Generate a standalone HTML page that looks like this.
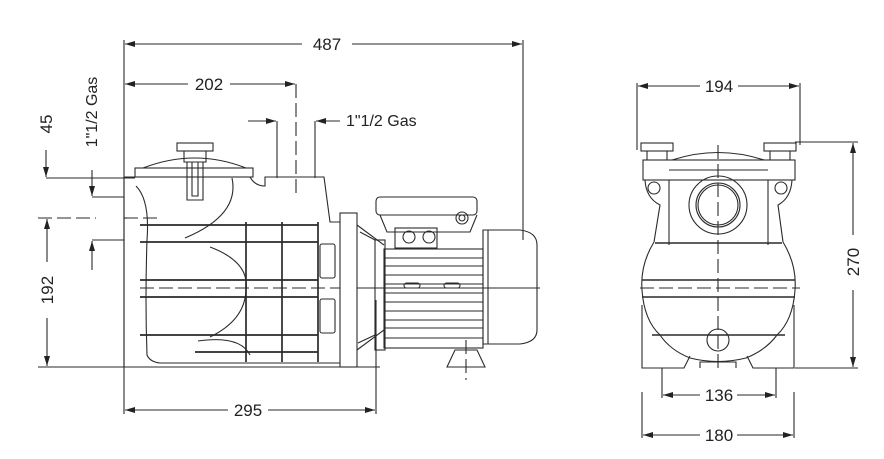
<!DOCTYPE html>
<html><head><meta charset="utf-8"><style>
html,body{margin:0;padding:0;background:#fff}
svg{display:block}
text{font-family:"Liberation Sans",sans-serif;fill:#222}
</style></head><body>
<svg width="884" height="459" viewBox="0 0 884 459" xmlns="http://www.w3.org/2000/svg">
<defs>
<marker id="a" markerWidth="10" markerHeight="6" refX="10" refY="3" orient="auto-start-reverse" markerUnits="userSpaceOnUse"><path d="M0,0 L10,3 L0,6 z" fill="#222"/></marker>
</defs>
<g stroke="#2a2a2a" stroke-width="1.1" fill="none">
<line x1="124" y1="40" x2="124" y2="414"/>
<line x1="523" y1="40" x2="523" y2="240"/>
<line x1="125" y1="44" x2="302" y2="44" marker-start="url(#a)"/>
<line x1="352" y1="44" x2="522" y2="44" marker-end="url(#a)"/>
<line x1="125" y1="84" x2="188" y2="84" marker-start="url(#a)"/>
<line x1="230" y1="84" x2="295" y2="84" marker-end="url(#a)"/>
<line x1="296" y1="84" x2="296" y2="196" stroke-dasharray="14,5"/>
<line x1="376" y1="300" x2="376" y2="414"/>
<line x1="125" y1="410" x2="228" y2="410" marker-start="url(#a)"/>
<line x1="268" y1="410" x2="375" y2="410" marker-end="url(#a)"/>
<line x1="248" y1="121" x2="276" y2="121" marker-end="url(#a)"/>
<line x1="277" y1="121" x2="277" y2="178"/>
<line x1="340" y1="121" x2="316" y2="121" marker-end="url(#a)"/>
<line x1="315" y1="121" x2="315" y2="178"/>
<line x1="46" y1="150" x2="46" y2="177" marker-end="url(#a)"/>
<line x1="46" y1="178" x2="135" y2="178"/>
<line x1="92" y1="170" x2="92" y2="196" marker-end="url(#a)"/>
<line x1="92" y1="197" x2="124" y2="197"/>
<line x1="92" y1="270" x2="92" y2="241" marker-end="url(#a)"/>
<line x1="92" y1="240" x2="124" y2="240"/>
<line x1="38" y1="218" x2="96" y2="218" stroke-dasharray="14,5"/>
<line x1="124" y1="218" x2="160" y2="218" stroke-dasharray="14,5"/>
<line x1="47" y1="219" x2="47" y2="262" marker-start="url(#a)"/>
<line x1="47" y1="318" x2="47" y2="366" marker-end="url(#a)"/>
<line x1="38" y1="367" x2="380" y2="367"/>

<path d="M143,168 Q195,148 246,168"/>
<rect x="135" y="168" width="118" height="9"/>
<rect x="177" y="143" width="36" height="8"/>
<path d="M184,151 V162 H206 V151"/>
<path d="M187,162 V200 H203 V162 M192,162 V196 H198 V162"/>
<path d="M124,177 H250 Q255,186 265,186 V177 H324 L330,222 L340,222"/>
<path d="M124,177 V367"/>
<path d="M136,186 Q150,200 147,240 Q145,300 147,355 Q150,362 160,363 H340"/>
<path d="M232,178 Q240,215 185,238"/>
<path d="M210,247 Q250,262 246,290 Q245,320 210,337"/>
<path d="M198,341 Q240,335 250,355"/>
<g stroke-width="1.7">
<line x1="140" y1="225" x2="318" y2="225"/>
<line x1="140" y1="242" x2="318" y2="242"/>
<line x1="140" y1="280" x2="318" y2="280"/>
<line x1="140" y1="297" x2="318" y2="297"/>
<line x1="140" y1="335" x2="318" y2="335"/>
<line x1="195" y1="352" x2="318" y2="352"/>
<line x1="246" y1="222" x2="246" y2="362"/>
<line x1="282" y1="222" x2="282" y2="362"/>
<line x1="318" y1="222" x2="318" y2="362"/>
</g>
<rect x="320" y="244" width="15" height="34" rx="2"/>
<rect x="320" y="299" width="15" height="34" rx="2"/>
<rect x="340" y="213" width="17" height="154"/>
<path d="M357,225 L384,245 M357,350 L384,330 M360,232 L375,240 M358,343 L375,335"/>
<rect x="375" y="240" width="10" height="110"/>
<path d="M357,288 H540"/>
<line x1="140" y1="288" x2="340" y2="288" stroke-dasharray="14,5"/>
<rect x="376" y="197" width="101" height="18" rx="4"/>
<path d="M380,215 L387,232 H470 L477,215"/>
<circle cx="462" cy="218" r="6"/><circle cx="462" cy="218" r="3"/>
<rect x="395" y="228" width="42" height="20"/>
<circle cx="409" cy="237" r="6"/><circle cx="429" cy="237" r="6"/>
<rect x="384" y="249" width="99" height="99"/>
<g stroke-width="0.9">
<line x1="384" y1="258" x2="483" y2="258"/>
<line x1="384" y1="266" x2="483" y2="266"/>
<line x1="384" y1="275" x2="483" y2="275"/>
<line x1="384" y1="284" x2="483" y2="284"/>
<line x1="384" y1="293" x2="483" y2="293"/>
<line x1="384" y1="302" x2="483" y2="302"/>
<line x1="384" y1="311" x2="483" y2="311"/>
<line x1="384" y1="320" x2="483" y2="320"/>
<line x1="384" y1="328" x2="483" y2="328"/>
<line x1="384" y1="338" x2="483" y2="338"/>
</g>
<rect x="404" y="283" width="16" height="5" rx="2.5"/>
<rect x="444" y="283" width="16" height="5" rx="2.5"/>
<path d="M483,230 H520 Q537,232 537,245 V330 Q537,342 520,344 H483 Z"/>
<line x1="488" y1="230" x2="488" y2="344"/>
<path d="M447,367 L455,350 H477 L485,367 Z"/>
<line x1="466" y1="340" x2="466" y2="380" stroke-dasharray="14,5"/>

<line x1="637" y1="83" x2="637" y2="150"/>
<line x1="800" y1="83" x2="800" y2="145"/>
<line x1="638" y1="86" x2="700" y2="86" marker-start="url(#a)"/>
<line x1="738" y1="86" x2="799" y2="86" marker-end="url(#a)"/>
<line x1="795" y1="142" x2="858" y2="142"/>
<line x1="795" y1="368" x2="858" y2="368"/>
<line x1="853" y1="143" x2="853" y2="235" marker-start="url(#a)"/>
<line x1="853" y1="290" x2="853" y2="367" marker-end="url(#a)"/>
<line x1="662" y1="368" x2="662" y2="398"/>
<line x1="776" y1="368" x2="776" y2="398"/>
<line x1="663" y1="395" x2="700" y2="395" marker-start="url(#a)"/>
<line x1="737" y1="395" x2="775" y2="395" marker-end="url(#a)"/>
<line x1="642" y1="392" x2="642" y2="438"/>
<line x1="794" y1="392" x2="794" y2="438"/>
<line x1="643" y1="435" x2="700" y2="435" marker-start="url(#a)"/>
<line x1="737" y1="435" x2="793" y2="435" marker-end="url(#a)"/>

<rect x="641" y="143" width="32" height="8"/>
<rect x="764" y="143" width="32" height="8"/>
<path d="M647,151 V160 M667,151 V160 M770,151 V160 M790,151 V160"/>
<path d="M672,160 Q718,145 764,160"/>
<rect x="643" y="160" width="152" height="20"/>
<line x1="669" y1="170" x2="768" y2="170"/>
<circle cx="654" cy="188" r="6"/><circle cx="781" cy="188" r="6"/>
<path d="M645,180 Q646,198 660,205 L654,242 M792,180 Q791,198 778,205 L783,242"/>
<path d="M669,180 V245 M768,180 V245"/>
<circle cx="718" cy="205" r="29"/>
<circle cx="718" cy="205" r="22"/>
<circle cx="718" cy="205" r="20"/>
<path d="M654,242 Q640,265 642,290 Q644,320 660,335 M783,242 Q797,265 795,290 Q793,320 777,335"/>
<line x1="655" y1="243" x2="782" y2="243" stroke-width="1.6"/>
<line x1="642" y1="280" x2="795" y2="280" stroke-width="1.6"/>
<line x1="642" y1="297" x2="795" y2="297" stroke-width="1.6"/>
<line x1="652" y1="335" x2="785" y2="335" stroke-width="1.6"/>
<line x1="640" y1="288" x2="800" y2="288" stroke-dasharray="14,5"/>
<line x1="718" y1="145" x2="718" y2="368" stroke-dasharray="14,5"/>
<circle cx="718" cy="340" r="11"/>
<path d="M660,335 Q670,350 690,358 Q718,365 746,358 Q766,350 777,335"/>
<path d="M642,305 V368 H684 L690,356 M794,305 V368 H753 L747,356"/>
<path d="M700,368 V362 H736 V368"/>
</g>
<g font-size="17">
<text x="327" y="50" text-anchor="middle">487</text>
<text x="209" y="90" text-anchor="middle">202</text>
<text x="248" y="416" text-anchor="middle">295</text>
<text x="346" y="126" font-size="16">1"1/2 Gas</text>
<text x="719" y="92" text-anchor="middle">194</text>
<text x="719" y="401" text-anchor="middle">136</text>
<text x="719" y="441" text-anchor="middle">180</text>
<text transform="translate(52,124) rotate(-90)" text-anchor="middle">45</text>
<text transform="translate(53,290) rotate(-90)" text-anchor="middle">192</text>
<text transform="translate(859,262) rotate(-90)" text-anchor="middle">270</text>
<text transform="translate(97,112) rotate(-90)" text-anchor="middle" font-size="16">1"1/2 Gas</text>
</g>
</svg>
</body></html>
